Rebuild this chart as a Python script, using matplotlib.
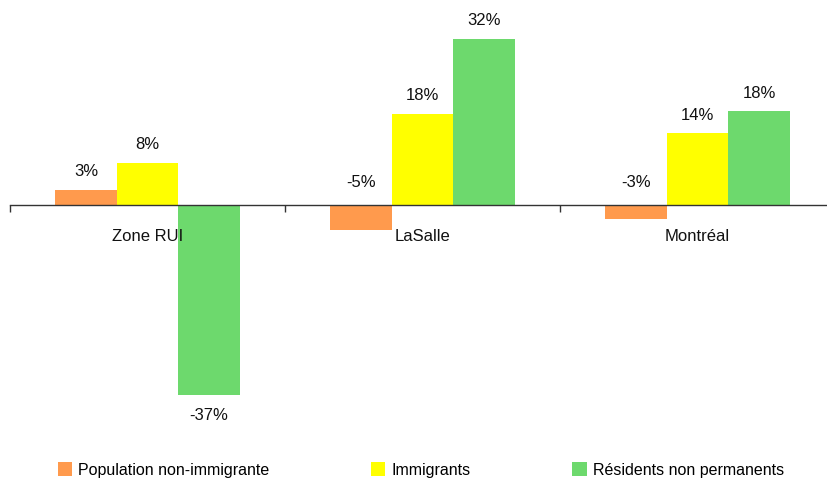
import numpy as np
import matplotlib
matplotlib.use("Agg")
import matplotlib.pyplot as plt

plt.rcParams['font.family'] = ['Liberation Sans', 'DejaVu Sans']

groups = ["Zone RUI", "LaSalle", "Montréal"]
series = ["Population non-immigrante", "Immigrants", "Résidents non permanents"]
non_immigrants = [2.9, -4.8, -2.6]
immigrants = [8.1, 17.5, 13.8]
residents = [-36.6, 32.0, 18.0]
colors = ["#FF9A4D", "#FFFF00", "#6DD96D"]

fig = plt.figure(figsize=(8.28, 4.87), dpi=100)
ax = fig.add_axes([10/828, 1 - 430/487, 825/828, 430/487])

x = np.arange(len(groups))
w = 0.224
px = 5.2  # pixels per percent

for i, (vals, name, c) in enumerate(zip([non_immigrants, immigrants, residents], series, colors)):
    xs = x + (i - 1) * w
    ax.bar(xs, vals, w, color=c, label=name, linewidth=0)
    for xi, v in zip(xs, vals):
        txt = "%.0f%%" % v
        if v >= 0:
            ax.text(xi, v + 18/px, txt, ha="center", va="center", fontsize=12, color="#111111")
        elif v > -10:
            ax.text(xi, 22/px, txt, ha="center", va="center", fontsize=12, color="#111111")
        else:
            ax.text(xi, v - 20/px, txt, ha="center", va="center", fontsize=12, color="#111111")

ax.set_xlim(-0.5, 2.5)
ax.set_ylim(-225/px, 205/px)

for s in ["top", "right", "left"]:
    ax.spines[s].set_visible(False)
ax.spines["bottom"].set_position(("data", 0))
ax.spines["bottom"].set_color("#333333")
ax.spines["bottom"].set_linewidth(1.0)
ax.set_yticks([])

ax.set_xticks([-0.5, 0.5, 1.5, 2.5])
ax.set_xticklabels([])
ax.tick_params(axis="x", which="major", length=5, width=1, color="#333333", direction="out")
ax.set_xticks(x, minor=True)
ax.set_xticklabels(groups, minor=True, fontsize=12, color="#111111")
ax.tick_params(axis="x", which="minor", length=0, pad=17)

fig.legend(loc="center", bbox_to_anchor=(0.5 + 7/828, 1 - 470/487), ncol=3, frameon=False,
           fontsize=11.5, handlelength=0.9, handleheight=0.9, handletextpad=0.4,
           columnspacing=6.35)

fig.savefig("out.png", dpi=100)
